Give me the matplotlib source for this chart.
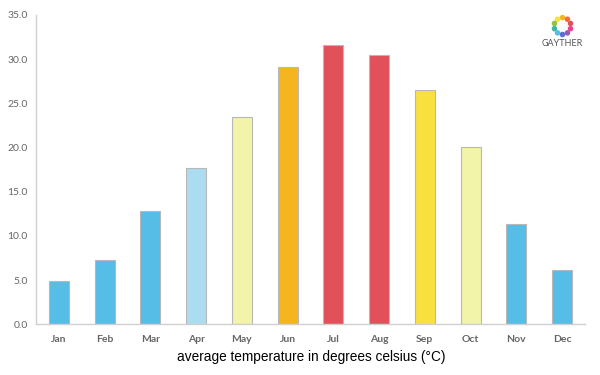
import numpy as np
import matplotlib
matplotlib.use('Agg')
import matplotlib.pyplot as plt

# Monthly average temperatures
months = ['Jan', 'Feb', 'Mar', 'Apr', 'May', 'Jun',
          'Jul', 'Aug', 'Sep', 'Oct', 'Nov', 'Dec']
temps = [4.9, 7.3, 12.8, 17.7, 23.5, 29.1, 31.6, 30.5, 26.5, 20.1, 11.4, 6.2]
colors = ['#56bde6', '#56bde6', '#56bde6', '#acdcf0', '#f2f4aa', '#f4b521',
          '#e2505a', '#e2505a', '#f8e13f', '#f2f4aa', '#56bde6', '#56bde6']
y_ticks = [0, 5, 10, 15, 20, 25, 30, 35]

fig = plt.figure(figsize=(6, 3.75), dpi=100)
ax = fig.add_axes([0.06, 0.135, 0.915, 0.825])

x = np.arange(len(months))
ax.bar(x, temps, width=0.44, color=colors, edgecolor='#b8b8b8', linewidth=0.8)

ax.set_xlim(-0.5, 11.5)
ax.set_ylim(0, 35)
ax.set_yticks(y_ticks)
ax.set_yticklabels(['{:.1f}'.format(v) for v in y_ticks])
ax.set_xticks(x)
ax.set_xticklabels(months, fontweight='bold')
ax.tick_params(axis='both', length=0, colors='#666666', labelsize=7.5)
ax.tick_params(axis='x', pad=8)
ax.tick_params(axis='y', pad=6)
for lab in ax.get_xticklabels() + ax.get_yticklabels():
    lab.set_family('Lato')
for s in ['top', 'right']:
    ax.spines[s].set_visible(False)
for s in ['left', 'bottom']:
    ax.spines[s].set_color('#d0d0d0')
    ax.spines[s].set_linewidth(1)

fig.text(0.518, 0.048, 'average temperature in degrees celsius (\u00b0C)',
         ha='center', va='center', fontsize=9.8, family='Liberation Sans')

# Logo: ring of coloured dots and name
logo_cols = ['#f4b521', '#f8e13f', '#8cc63f', '#3fb6a8', '#56bde6',
             '#5b6fd6', '#9b59b6', '#e84393', '#e2505a', '#f06c3b']
lax = fig.add_axes([0.915, 0.893, 0.045, 0.075])
lax.set_aspect('equal')
lax.axis('off')
ang = np.linspace(0, 2 * np.pi, len(logo_cols), endpoint=False) + np.pi / 2
lax.scatter(np.cos(ang), np.sin(ang), s=16, c=logo_cols, linewidths=0)
lax.set_xlim(-1.6, 1.6)
lax.set_ylim(-1.6, 1.6)
fig.text(0.938, 0.883, 'GAYTHER', ha='center', va='center', fontsize=6.5,
         color='#555555', family='Lato')

fig.savefig('out.png', dpi=100)
